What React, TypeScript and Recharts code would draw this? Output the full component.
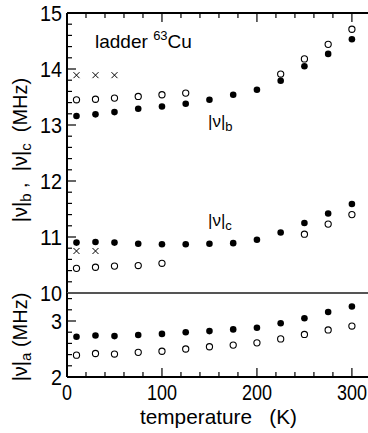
import React from 'react';
import { ScatterChart, Scatter, XAxis, YAxis, ReferenceLine, ReferenceDot } from 'recharts';

// temperature (K)
const temps = [10, 30, 50, 75, 100, 125, 150, 175, 200, 225, 250, 275, 300];

// |nu|_b
const bFilled = [13.16, 13.19, 13.23, 13.29, 13.33, 13.38, 13.45, 13.54, 13.63, 13.79, 14.05, 14.27, 14.53];
const bOpenTemps = [10, 30, 50, 75, 100, 125, 225, 250, 275, 300];
const bOpen = [13.45, 13.46, 13.48, 13.51, 13.54, 13.57, 13.91, 14.18, 14.44, 14.71];
const bCrossTemps = [10, 30, 50];
const bCross = [13.89, 13.89, 13.89];

// |nu|_c
const cFilled = [10.9, 10.91, 10.9, 10.88, 10.87, 10.87, 10.88, 10.89, 10.95, 11.08, 11.25, 11.42, 11.59];
const cOpenTemps = [10, 30, 50, 75, 100, 250, 275, 300];
const cOpen = [10.44, 10.46, 10.48, 10.49, 10.53, 11.05, 11.23, 11.4];
const cCrossTemps = [10, 30];
const cCross = [10.75, 10.75];

// |nu|_a
const aFilled = [2.72, 2.74, 2.73, 2.75, 2.77, 2.8, 2.82, 2.85, 2.88, 2.96, 3.05, 3.16, 3.26];
const aOpen = [2.39, 2.42, 2.41, 2.44, 2.46, 2.5, 2.54, 2.57, 2.61, 2.68, 2.76, 2.84, 2.91];

// ticks
const xTicks = [0, 20, 40, 60, 80, 100, 120, 140, 160, 180, 200, 220, 240, 260, 280, 300];
const xMajor = [0, 100, 200, 300];
const upperTicks = [
  10, 10.2, 10.4, 10.6, 10.8, 11, 11.2, 11.4, 11.6, 11.8, 12, 12.2, 12.4, 12.6, 12.8,
  13, 13.2, 13.4, 13.6, 13.8, 14, 14.2, 14.4, 14.6, 14.8, 15,
];
const upperMajor = [10, 11, 12, 13, 14, 15];
const lowerTicks = [2, 2.2, 2.4, 2.6, 2.8, 3, 3.2, 3.4];
const lowerMajor = [2, 3];

// where the in-plot captions sit (data coords)
const captionMain = { t: 29.5, v: 14.375 };
const captionB = { t: 148.5, v: 12.97 };
const captionC = { t: 148.5, v: 11.19 };

const xDomain: [number, number] = [0, 318];
const SANS = '"Liberation Sans", Arial, sans-serif';

const pts = (xs: number[], ys: number[]) => xs.map((t, i) => ({ t, v: ys[i] }));

const FilledDot = (p: any) => <circle cx={p.cx} cy={p.cy} r={3.3} fill="#000" />;
const OpenDot = (p: any) => (
  <circle cx={p.cx} cy={p.cy} r={3.1} fill="#fff" stroke="#000" strokeWidth={1.1} />
);
const CrossMark = (p: any) => (
  <path
    d={`M${p.cx - 3},${p.cy - 3}L${p.cx + 3},${p.cy + 3}M${p.cx - 3},${p.cy + 3}L${p.cx + 3},${p.cy - 3}`}
    stroke="#000"
    strokeWidth={1}
  />
);

type Side = 'left' | 'right' | 'top' | 'bottom';

// inward tick marks, longer on the labelled values
const makeTick = (side: Side, majors: number[], showLabel: boolean) => (props: any) => {
  const { x, y, payload } = props;
  const v = payload.value;
  const major = majors.indexOf(v) >= 0;
  const len = major ? 9 : 5;
  const dx = side === 'left' ? len : side === 'right' ? -len : 0;
  const dy = side === 'top' ? len : side === 'bottom' ? -len : 0;
  const s = String(v);
  return (
    <g>
      <line x1={x} y1={y} x2={x + dx} y2={y + dy} stroke="#000" strokeWidth={1.2} />
      {showLabel && major && side === 'left' && (
        <text
          x={x - 5}
          y={y}
          dy="0.36em"
          textAnchor="end"
          fontSize={22}
          fontFamily={SANS}
          fill="#000"
          textLength={s.length * 11}
          lengthAdjust="spacingAndGlyphs"
        >
          {s}
        </text>
      )}
      {showLabel && major && side === 'bottom' && (
        <text
          x={x}
          y={y + 23}
          textAnchor="middle"
          fontSize={22}
          fontFamily={SANS}
          fill="#000"
          textLength={s.length * 10}
          lengthAdjust="spacingAndGlyphs"
        >
          {s}
        </text>
      )}
    </g>
  );
};

const Caption = ({ cx, cy, children }: any) => (
  <text x={cx} y={cy} fontFamily={SANS} fill="#000">
    {children}
  </text>
);

const upperLabel = () => (
  <text transform="translate(27, 150) rotate(-90)" textAnchor="middle" fontSize={20} fontFamily={SANS} fill="#000">
    |ν|<tspan dy={4} fontSize={15}>b</tspan>
    <tspan dy={-4}>{'\u00A0,\u00A0\u00A0|ν|'}</tspan>
    <tspan dy={4} fontSize={15}>c</tspan>
    <tspan dy={-4}>{'\u00A0\u00A0(MHz)'}</tspan>
  </text>
);

const lowerLabel = () => (
  <text transform="translate(27, 47) rotate(-90)" textAnchor="middle" fontSize={20} fontFamily={SANS} fill="#000">
    |ν|<tspan dy={4} fontSize={15}>a</tspan>
    <tspan dy={-4}>{'\u00A0(MHz)'}</tspan>
  </text>
);

const xLabel = () => (
  <text
    x={218.5}
    y={134}
    textAnchor="middle"
    fontSize={21}
    fontFamily={SANS}
    fill="#000"
    textLength={157}
    lengthAdjust="spacingAndGlyphs"
  >
    {'temperature\u00A0\u00A0\u00A0(K)'}
  </text>
);

const frame = { stroke: '#000', strokeWidth: 2 };

const App: React.FC = () => {
  return (
    <div style={{ position: 'absolute', left: 0, top: 0, width: 368, height: 433, overflow: 'hidden', background: '#fff' }}>
      {/* upper panel: |nu|_b and |nu|_c */}
      <div style={{ position: 'absolute', left: 0, top: 0 }}>
        <ScatterChart width={370} height={305} margin={{ top: 12, right: 0, bottom: 12, left: 0 }}>
          <XAxis
            xAxisId="top"
            orientation="top"
            type="number"
            dataKey="t"
            domain={xDomain}
            ticks={xTicks}
            interval={0}
            height={1}
            tickSize={0}
            tickMargin={0}
            tickLine={false}
            axisLine={frame}
            tick={makeTick('top', xMajor, false)}
          />
          <YAxis
            yAxisId="left"
            type="number"
            dataKey="v"
            domain={[10, 15]}
            ticks={upperTicks}
            interval={0}
            width={67}
            tickSize={0}
            tickMargin={0}
            tickLine={false}
            axisLine={frame}
            tick={makeTick('left', upperMajor, true)}
            label={{ content: upperLabel }}
          />
          <YAxis
            yAxisId="right"
            orientation="right"
            type="number"
            dataKey="v"
            domain={[10, 15]}
            ticks={upperTicks}
            interval={0}
            width={1}
            tickSize={0}
            tickMargin={0}
            tickLine={false}
            axisLine={frame}
            tick={makeTick('right', upperMajor, false)}
          />
          <Scatter xAxisId="top" yAxisId="left" data={pts(temps, bFilled)} shape={FilledDot} isAnimationActive={false} />
          <Scatter xAxisId="top" yAxisId="left" data={pts(bOpenTemps, bOpen)} shape={OpenDot} isAnimationActive={false} />
          <Scatter xAxisId="top" yAxisId="left" data={pts(bCrossTemps, bCross)} shape={CrossMark} isAnimationActive={false} />
          <Scatter xAxisId="top" yAxisId="left" data={pts(temps, cFilled)} shape={FilledDot} isAnimationActive={false} />
          <Scatter xAxisId="top" yAxisId="left" data={pts(cOpenTemps, cOpen)} shape={OpenDot} isAnimationActive={false} />
          <Scatter xAxisId="top" yAxisId="left" data={pts(cCrossTemps, cCross)} shape={CrossMark} isAnimationActive={false} />
          <ReferenceDot
            xAxisId="top"
            yAxisId="left"
            x={captionMain.t}
            y={captionMain.v}
            r={0}
            shape={(p: any) => (
              <Caption cx={p.cx} cy={p.cy}>
                <tspan fontSize={19}>ladder </tspan>
                <tspan fontSize={13} dy={-8}>63</tspan>
                <tspan fontSize={19} dy={8}>Cu</tspan>
              </Caption>
            )}
          />
          <ReferenceDot
            xAxisId="top"
            yAxisId="left"
            x={captionB.t}
            y={captionB.v}
            r={0}
            shape={(p: any) => (
              <Caption cx={p.cx} cy={p.cy}>
                <tspan fontSize={17}>|ν|</tspan>
                <tspan fontSize={13} dy={4}>b</tspan>
              </Caption>
            )}
          />
          <ReferenceDot
            xAxisId="top"
            yAxisId="left"
            x={captionC.t}
            y={captionC.v}
            r={0}
            shape={(p: any) => (
              <Caption cx={p.cx} cy={p.cy}>
                <tspan fontSize={17}>|ν|</tspan>
                <tspan fontSize={13} dy={4}>c</tspan>
              </Caption>
            )}
          />
        </ScatterChart>
      </div>

      {/* lower panel: |nu|_a */}
      <div style={{ position: 'absolute', left: 0, top: 290 }}>
        <ScatterChart width={370} height={143} margin={{ top: 3, right: 0, bottom: 0, left: 0 }}>
          <XAxis
            xAxisId="bottom"
            orientation="bottom"
            type="number"
            dataKey="t"
            domain={xDomain}
            ticks={xTicks}
            interval={0}
            height={56}
            tickSize={0}
            tickMargin={0}
            tickLine={false}
            axisLine={frame}
            tick={makeTick('bottom', xMajor, true)}
            label={{ content: xLabel }}
          />
          <YAxis
            yAxisId="left"
            type="number"
            dataKey="v"
            domain={[2, 3.5]}
            ticks={lowerTicks}
            interval={0}
            width={67}
            tickSize={0}
            tickMargin={0}
            tickLine={false}
            axisLine={frame}
            tick={makeTick('left', lowerMajor, true)}
            label={{ content: lowerLabel }}
          />
          <YAxis
            yAxisId="right"
            orientation="right"
            type="number"
            dataKey="v"
            domain={[2, 3.5]}
            ticks={lowerTicks}
            interval={0}
            width={1}
            tickSize={0}
            tickMargin={0}
            tickLine={false}
            axisLine={frame}
            tick={makeTick('right', lowerMajor, false)}
          />
          <ReferenceLine xAxisId="bottom" yAxisId="left" y={3.5} stroke="#555" strokeWidth={2} />
          <Scatter xAxisId="bottom" yAxisId="left" data={pts(temps, aFilled)} shape={FilledDot} isAnimationActive={false} />
          <Scatter xAxisId="bottom" yAxisId="left" data={pts(temps, aOpen)} shape={OpenDot} isAnimationActive={false} />
        </ScatterChart>
      </div>
    </div>
  );
};

export default App;
